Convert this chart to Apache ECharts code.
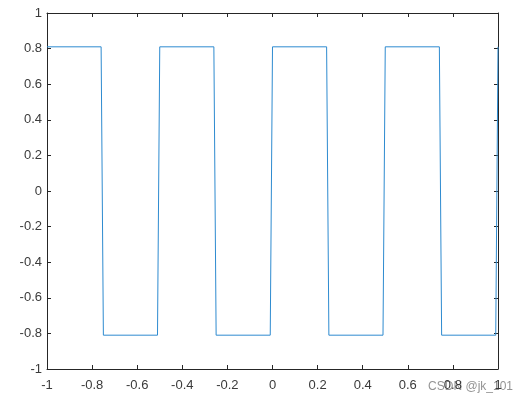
<!DOCTYPE html>
<html>
<head>
<meta charset="utf-8">
<script src="https://cdn.jsdelivr.net/npm/echarts@6/dist/echarts.min.js"></script>
<style>
html,body{margin:0;padding:0;background:#fff;}
#chart{width:528px;height:405px;}
</style>
</head>
<body>
<div id="chart"></div>
<script>
var xValues = [-1, -0.76, -0.75, -0.51, -0.50, -0.26, -0.25, -0.01, 0, 0.24, 0.25, 0.49, 0.50, 0.74, 0.75, 0.99, 1.0];
var yValues = [0.81, 0.81, -0.81, -0.81, 0.81, 0.81, -0.81, -0.81, 0.81, 0.81, -0.81, -0.81, 0.81, 0.81, -0.81, -0.81, 0.81];
var xTickLabels = ['-1', '-0.8', '-0.6', '-0.4', '-0.2', '0', '0.2', '0.4', '0.6', '0.8', '1'];
var yTickLabels = ['-1', '-0.8', '-0.6', '-0.4', '-0.2', '0', '0.2', '0.4', '0.6', '0.8', '1'];

var data = xValues.map(function (x, i) { return [x, yValues[i]]; });
function lab(arr) {
  return function (v) {
    var idx = Math.round((v + 1) / 0.2);
    return arr[idx] !== undefined ? arr[idx] : '';
  };
}
var axisColor = '#262626';
var labelColor = '#3a3a3a';
var fontFam = 'Liberation Sans, Arial, Helvetica, sans-serif';
var common = {
  type: 'value', min: -1, max: 1, interval: 0.2,
  axisLine: { show: true, onZero: false, lineStyle: { color: axisColor, width: 1 } },
  axisTick: { show: true, inside: true, length: 4, lineStyle: { color: axisColor, width: 1 } },
  splitLine: { show: false }
};
var chart = echarts.init(document.getElementById('chart'), null, { renderer: 'canvas' });
chart.setOption({
  animation: false,
  backgroundColor: '#fff',
  grid: { left: 47, right: 30, top: 13, bottom: 36, containLabel: false },
  xAxis: [
    Object.assign({}, common, { position: 'bottom',
      axisLabel: { show: true, color: labelColor, fontSize: 13, fontFamily: fontFam, margin: 10, formatter: lab(xTickLabels) } }),
    Object.assign({}, common, { position: 'top', axisLabel: { show: false } })
  ],
  yAxis: [
    Object.assign({}, common, { position: 'left',
      axisLabel: { show: true, color: labelColor, fontSize: 13, fontFamily: fontFam, margin: 5, formatter: lab(yTickLabels) } }),
    Object.assign({}, common, { position: 'right', axisLabel: { show: false } })
  ],
  series: [{
    type: 'line', data: data, xAxisIndex: 0, yAxisIndex: 0,
    showSymbol: false, symbol: 'none',
    lineStyle: { color: '#2e8bd0', width: 1 }
  }],
  graphic: [{
    type: 'text', right: 15, top: 381,
    style: { text: 'CSDN @jk_101', fill: 'rgba(120,120,120,0.8)', fontSize: 12, fontFamily: fontFam }
  }]
});
</script>
</body>
</html>
